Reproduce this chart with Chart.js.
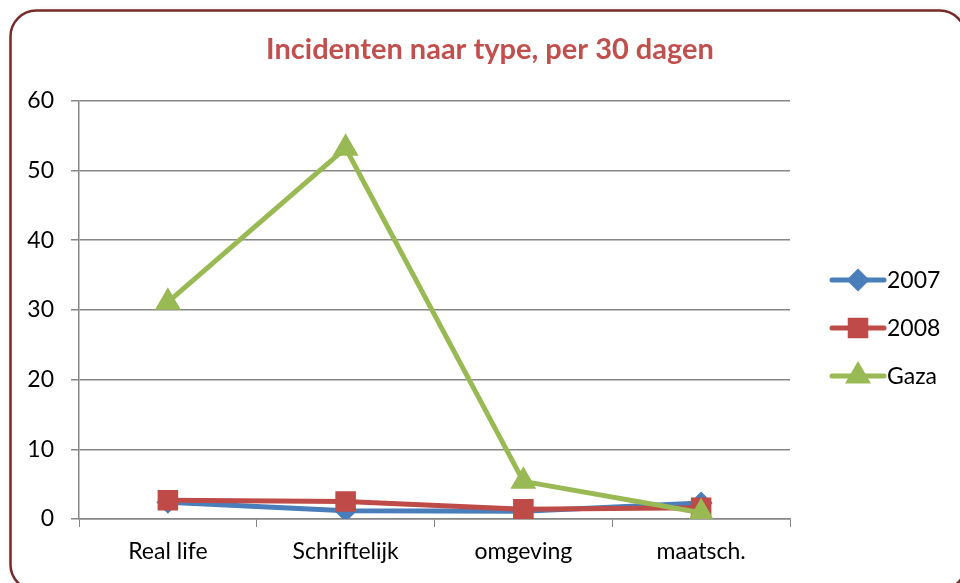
<!DOCTYPE html>
<html>
<head>
<meta charset="utf-8">
<script src="https://cdn.jsdelivr.net/npm/chart.js@4.4.1/dist/chart.umd.min.js"></script>
<style>
  html, body { margin: 0; padding: 0; background: #fff; }
</style>
</head>
<body>
<canvas id="grafiek" width="960" height="583"></canvas>
<script>
// data
const categorieen = ['Real life', 'Schriftelijk', 'omgeving', 'maatsch.'];
const waarden2007 = [2.4, 1.2, 1.1, 2.3];
const waarden2008 = [2.7, 2.5, 1.4, 1.6];
const waardenGaza = [31.1, 53.2, 5.4, 0.9];
const yMin = 0, yMax = 60, yStap = 10;

const lettertype = 'Lato, "Open Sans", sans-serif';

// kader met afgeronde hoeken
const kaderPlugin = {
    id: 'kader',
    beforeDraw(chart) {
        const ctx = chart.ctx;
        ctx.save();
        ctx.fillStyle = '#fff';
        ctx.fillRect(0, 0, chart.width, chart.height);
        ctx.shadowColor = 'rgba(0,0,0,0.25)';
        ctx.shadowBlur = 6;
        ctx.shadowOffsetX = 2;
        ctx.shadowOffsetY = 2;
        ctx.beginPath();
        ctx.roundRect(10.5, 10.5, 955, 580, 26);
        ctx.fillStyle = '#fff';
        ctx.fill();
        ctx.shadowColor = 'transparent';
        ctx.lineWidth = 2.5;
        ctx.strokeStyle = '#772b29';
        ctx.stroke();
        ctx.restore();
    }
};

// legenda rechts, lijn met marker
const legendaPlugin = {
    id: 'legendaRechts',
    afterDraw(chart) {
        const ctx = chart.ctx;
        ctx.save();
        chart.data.datasets.forEach((ds, i) => {
            const y = 280 + i * 48;
            ctx.beginPath();
            ctx.lineCap = 'round';
            ctx.lineWidth = ds.borderWidth;
            ctx.strokeStyle = ds.borderColor;
            ctx.moveTo(832, y);
            ctx.lineTo(884, y);
            ctx.stroke();
            ctx.fillStyle = ds.backgroundColor;
            ctx.strokeStyle = ds.backgroundColor;
            Chart.helpers.drawPoint(ctx, {
                pointStyle: ds.pointStyle,
                radius: ds.pointRadius,
                rotation: 0,
                borderWidth: 1
            }, 858, y);
            ctx.fillStyle = '#000';
            ctx.font = '23px ' + lettertype;
            ctx.textBaseline = 'middle';
            ctx.textAlign = 'left';
            ctx.fillText(ds.label, 887, y + 1);
        });
        ctx.restore();
    }
};

const ctx = document.getElementById('grafiek').getContext('2d');
new Chart(ctx, {
    type: 'line',
    data: {
        labels: categorieen,
        datasets: [
            {
                label: '2007',
                data: waarden2007,
                borderColor: '#4a7ebb',
                backgroundColor: '#4a7ebb',
                borderWidth: 5,
                pointStyle: 'rectRot',
                pointRadius: 8,
                pointHoverRadius: 8,
                order: 3
            },
            {
                label: '2008',
                data: waarden2008,
                borderColor: '#be4b48',
                backgroundColor: '#be4b48',
                borderWidth: 5,
                pointStyle: 'rect',
                pointRadius: 11,
                pointHoverRadius: 11,
                order: 2
            },
            {
                label: 'Gaza',
                data: waardenGaza,
                borderColor: '#98b954',
                backgroundColor: '#98b954',
                borderWidth: 5,
                pointStyle: 'triangle',
                pointRadius: 10,
                pointHoverRadius: 10,
                order: 1
            }
        ]
    },
    options: {
        responsive: false,
        animation: false,
        events: [],
        layout: { padding: { left: 20, right: 0, top: 10, bottom: 0 } },
        elements: { line: { tension: 0 } },
        plugins: {
            legend: { display: false },
            tooltip: { enabled: false },
            title: {
                display: true,
                text: 'Incidenten naar type, per 30 dagen',
                color: '#c0504d',
                font: { family: lettertype, size: 29, weight: 'bold', lineHeight: 1.2 },
                padding: { top: 22, bottom: 34 }
            }
        },
        scales: {
            x: {
                offset: true,
                grid: {
                    offset: true,
                    drawOnChartArea: false,
                    drawTicks: true,
                    tickLength: 8,
                    color: '#868686'
                },
                border: { color: '#868686', width: 1.5 },
                ticks: {
                    color: '#000',
                    padding: 11,
                    font: { family: lettertype, size: 23 }
                },
                afterFit(scale) { scale.height = 64; }
            },
            y: {
                min: yMin,
                max: yMax,
                ticks: {
                    stepSize: yStap,
                    color: '#000',
                    padding: 17,
                    font: { family: lettertype, size: 23 }
                },
                grid: { color: '#868686', lineWidth: 1.5, tickLength: 8 },
                border: { color: '#868686', width: 1.5 },
                afterFit(scale) { scale.width = 59; }
            },
            ruimte: {
                position: 'right',
                display: true,
                ticks: { display: false },
                grid: { display: false },
                border: { display: false },
                afterFit(scale) { scale.width = 170; }
            }
        }
    },
    plugins: [kaderPlugin, legendaPlugin]
});
</script>
</body>
</html>
